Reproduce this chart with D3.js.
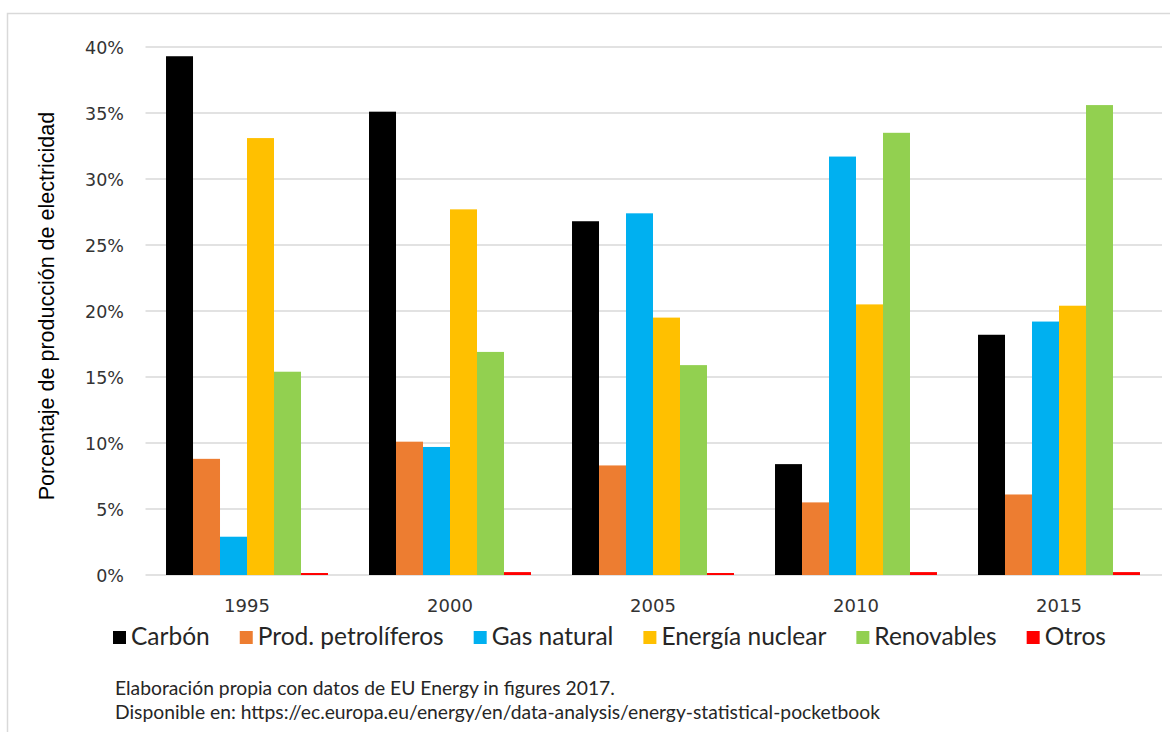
<!DOCTYPE html>
<html>
<head>
<meta charset="utf-8">
<script src="https://cdn.jsdelivr.net/npm/d3@7"></script>
<style>
  html, body { margin: 0; padding: 0; background: #ffffff; }
  svg { display: block; }
</style>
</head>
<body>
<svg id="chart" width="1170" height="732"></svg>
<script>
// ---- Data ----
const years = ["1995", "2000", "2005", "2010", "2015"];
const series = ["Carbón", "Prod. petrolíferos", "Gas natural", "Energía nuclear", "Renovables", "Otros"];
const carbon     = [39.3, 35.1, 26.8,  8.4, 18.2];
const petroleo   = [ 8.8, 10.1,  8.3,  5.5,  6.1];
const gasNatural = [ 2.9,  9.7, 27.4, 31.7, 19.2];
const nuclear    = [33.1, 27.7, 19.5, 20.5, 20.4];
const renovables = [15.4, 16.9, 15.9, 33.5, 35.6];
const otros      = [ 0.15, 0.22, 0.15, 0.22, 0.22];
const yTicks = [0, 5, 10, 15, 20, 25, 30, 35, 40];
const colors = ["#000000", "#ED7D31", "#00B0F0", "#FFC000", "#92D050", "#FF0000"];
const yTitle = "Porcentaje de producción de electricidad";
const note1 = "Elaboración propia con datos de EU Energy in figures 2017.";
const note2 = "Disponible en: https://ec.europa.eu/energy/en/data-analysis/energy-statistical-pocketbook";

const valuesBySeries = [carbon, petroleo, gasNatural, nuclear, renovables, otros];

// ---- Layout ----
const svg = d3.select("#chart");
const plot = { left: 145.5, right: 1160.5, top: 47, bottom: 575 };

// outer border
svg.append("rect")
  .attr("x", 7.5).attr("y", 13.5)
  .attr("width", 1300).attr("height", 900)
  .attr("fill", "#ffffff").attr("stroke", "#d9d9d9").attr("stroke-width", 1.5);

const x0 = d3.scaleBand().domain(years).range([plot.left, plot.right]).paddingInner(0).paddingOuter(0);
const x1 = d3.scaleBand().domain(series).range([0, x0.bandwidth()]).paddingInner(0).paddingOuter(0.76);
const y = d3.scaleLinear().domain([0, 40]).range([plot.bottom, plot.top]);

// gridlines
svg.append("g")
  .selectAll("line")
  .data(yTicks)
  .join("line")
  .attr("x1", plot.left).attr("x2", 1162)
  .attr("y1", d => y(d)).attr("y2", d => y(d))
  .attr("stroke", "#d9d9d9").attr("stroke-width", 1.3);

// y axis labels
const yAxis = d3.axisLeft(y).tickValues(yTicks).tickFormat(d => d + "%").tickSize(0).tickPadding(0);
const gy = svg.append("g").attr("transform", `translate(124,0)`).call(yAxis);
gy.select(".domain").remove();
gy.selectAll("text")
  .attr("font-family", "DejaVu Sans, Verdana, sans-serif")
  .attr("font-size", 17.5)
  .attr("fill", "#333333")
  .attr("dy", "0.35em");

// bars
const groups = svg.append("g")
  .selectAll("g")
  .data(years)
  .join("g")
  .attr("transform", d => `translate(${x0(d)},0)`);

groups.selectAll("rect")
  .data((yr, i) => series.map((s, j) => ({ s, j, v: valuesBySeries[j][i] })))
  .join("rect")
  .attr("x", d => x1(d.s))
  .attr("width", x1.bandwidth())
  .attr("y", d => y(d.v))
  .attr("height", d => y(0) - y(d.v))
  .attr("fill", d => colors[d.j]);

// x axis labels
const xAxis = d3.axisBottom(x0).tickSize(0).tickPadding(0);
const gx = svg.append("g").attr("transform", `translate(0,${plot.bottom + 37})`).call(xAxis);
gx.select(".domain").remove();
gx.selectAll("text")
  .attr("font-family", "DejaVu Sans, Verdana, sans-serif")
  .attr("font-size", 18)
  .attr("fill", "#333333")
  .attr("dy", 0);

// y title
svg.append("text")
  .attr("transform", `translate(54,${306}) rotate(-90)`)
  .attr("text-anchor", "middle")
  .attr("font-family", "Liberation Sans, Arial, sans-serif")
  .attr("font-size", 21.5)
  .attr("fill", "#000000")
  .text(yTitle);

// legend
const legend = svg.append("g").attr("transform", "translate(113,0)");
let lx = 0;
series.forEach((s, j) => {
  const g = legend.append("g").attr("transform", `translate(${lx},0)`);
  g.append("rect").attr("x", 0).attr("y", 631).attr("width", 13).attr("height", 13).attr("fill", colors[j]);
  const t = g.append("text")
    .attr("x", 18).attr("y", 645)
    .attr("font-family", "Lato, sans-serif")
    .attr("font-size", 24.5)
    .attr("fill", "#262626")
    .text(s);
  lx += 18 + t.node().getComputedTextLength() + 30;
});

// footnote
[note1, note2].forEach((n, i) => {
  svg.append("text")
    .attr("x", 115).attr("y", 695 + i * 24)
    .attr("font-family", "Lato, sans-serif")
    .attr("font-size", 19.3)
    .attr("fill", "#262626")
    .text(n);
});
</script>
</body>
</html>
